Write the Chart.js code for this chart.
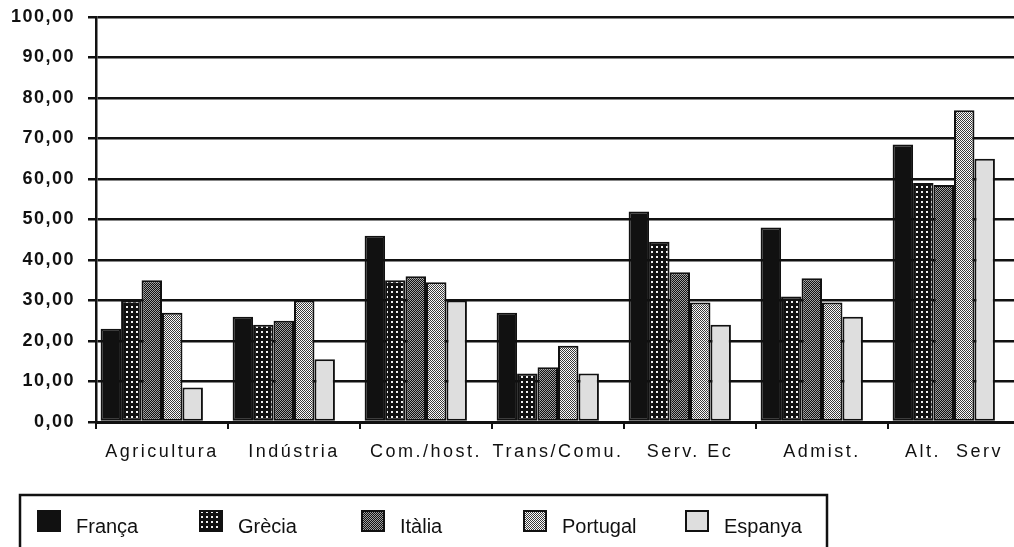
<!DOCTYPE html>
<html>
<head>
<meta charset="utf-8">
<script src="https://cdn.jsdelivr.net/npm/chart.js@4.4.0/dist/chart.umd.min.js"></script>
<style>
  html, body { margin: 0; padding: 0; background: #fff; overflow: hidden; }
  #chart { display: block; }
</style>
</head>
<body>
<canvas id="chart" width="1020" height="547"></canvas>
<script>
// values (percent)
const categories = ["Agricultura", "Indústria", "Com./host.", "Trans/Comu.", "Serv. Ec", "Admist.", "Alt.  Serv"];
const franca   = [23,   26,   46,   27,   52,   48,   68.5];
const grecia   = [30,   24,   35,   12,   44.5, 31,   59];
const italia   = [35,   25,   36,   13.5, 37,   35.5, 58.5];
const portugal = [27,   30,   34.5, 18.8, 29.5, 29.5, 77];
const espanya  = [8.5,  15.5, 30,   12,   24,   26,   65];
const seriesNames = ["França", "Grècia", "Itàlia", "Portugal", "Espanya"];
const yTicks = [0, 10, 20, 30, 40, 50, 60, 70, 80, 90, 100];

const INK = "#111";

// small tiles to imitate the halftone fills of the original
function tile(w, h, paint) {
    const c = document.createElement("canvas");
    c.width = w; c.height = h;
    const g = c.getContext("2d");
    paint(g);
    return document.getElementById("chart").getContext("2d").createPattern(c, "repeat");
}

const fills = [
    INK,
    tile(5, 5, g => { g.fillStyle = "#111"; g.fillRect(0, 0, 5, 5); g.fillStyle = "#f2f2f2"; g.fillRect(1, 1, 2, 2); }),
    tile(2, 2, g => { g.fillStyle = "#111"; g.fillRect(0, 0, 2, 2); g.fillStyle = "#a0a0a0"; g.fillRect(0, 0, 1, 1); g.fillRect(1, 1, 1, 1); }),
    tile(2, 2, g => { g.fillStyle = "#fafafa"; g.fillRect(0, 0, 2, 2); g.fillStyle = "#3a3a3a"; g.fillRect(0, 0, 1, 1); g.fillRect(1, 1, 1, 1); }),
    "#dedede"
];

const seriesData = [franca, grecia, italia, portugal, espanya];
const datasets = seriesData.map((d, i) => ({
    label: seriesNames[i],
    data: d,
    backgroundColor: fills[i],
    borderColor: INK,
    borderWidth: 2,
    borderSkipped: false
}));
// empty slot so the group sits to the left like in the original
datasets.push({ label: "", data: categories.map(() => null), backgroundColor: "rgba(0,0,0,0)", borderWidth: 0 });

// letter spacing of the old print: x labels wider, y labels a bit less
const spacingPlugin = {
    id: "spacing",
    beforeDraw(chart) { chart.ctx.letterSpacing = "2.5px"; },
    afterDatasetsDraw(chart) { chart.ctx.letterSpacing = "1.5px"; }
};

// boxed legend at fixed pitch under the chart
const boxLegend = {
    id: "boxLegend",
    afterDraw(chart) {
        const ctx = chart.ctx;
        ctx.save();
        ctx.letterSpacing = "0px";
        ctx.strokeStyle = INK;
        ctx.lineWidth = 2.5;
        ctx.strokeRect(20, 495, 807, 80);
        ctx.font = '20px "Liberation Sans", Arial, sans-serif';
        ctx.textBaseline = "alphabetic";
        ctx.textAlign = "left";
        seriesNames.forEach((name, i) => {
            const x = 37 + i * 162;
            ctx.fillStyle = fills[i];
            ctx.fillRect(x, 510, 24, 22);
            ctx.lineWidth = 2;
            ctx.strokeRect(x + 1, 511, 22, 20);
            ctx.fillStyle = INK;
            ctx.fillText(name, x + 39, 533);
        });
        ctx.restore();
    }
};

new Chart(document.getElementById("chart"), {
    type: "bar",
    data: { labels: categories, datasets: datasets },
    options: {
        responsive: false,
        animation: false,
        devicePixelRatio: 1,
        layout: { padding: { top: 17, left: 0, right: 0, bottom: 80 } },
        datasets: { bar: { categoryPercentage: 0.93, barPercentage: 1.0 } },
        plugins: { legend: { display: false }, tooltip: { enabled: false } },
        scales: {
            x: {
                grid: { drawOnChartArea: false, drawTicks: true, tickLength: 7, color: INK, lineWidth: 2, offset: true },
                border: { color: INK, width: 3 },
                ticks: { color: INK, padding: 12, font: { family: '"Liberation Sans", Arial, sans-serif', size: 18 } },
                afterFit(scale) { scale.height = 45; scale.paddingLeft = 0; scale.paddingRight = 0; }
            },
            y: {
                min: 0,
                max: 100,
                afterBuildTicks(scale) { scale.ticks = yTicks.map(v => ({ value: v })); },
                grid: { color: INK, lineWidth: 2.5, tickLength: 8 },
                border: { color: INK, width: 2.5 },
                ticks: {
                    z: 1,
                    color: INK,
                    padding: 13,
                    font: { family: '"Liberation Sans", Arial, sans-serif', size: 18, weight: "bold" },
                    callback: v => v.toFixed(2).replace(".", ",")
                },
                afterFit(scale) { scale.width = 96; scale.paddingTop = 0; scale.paddingBottom = 0; }
            }
        }
    },
    plugins: [spacingPlugin, boxLegend]
});
</script>
</body>
</html>
